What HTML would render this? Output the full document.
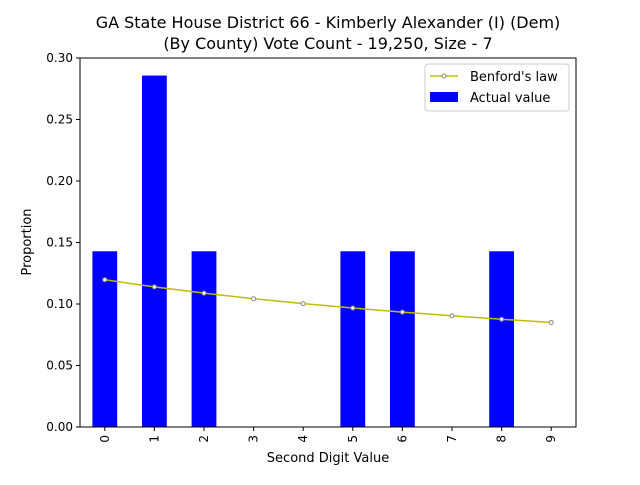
<!DOCTYPE html>
<html><head><meta charset="utf-8"><style>
body{margin:0;background:#fff;font-family:"Liberation Sans","DejaVu Sans",sans-serif;}
svg text{font-family:"DejaVu Sans","Liberation Sans",sans-serif;}
</style></head><body>
<svg id="chart" width="640" height="480" xmlns="http://www.w3.org/2000/svg">
<rect width="640" height="480" fill="#fff"/>
<text x="328" y="28" font-size="16" text-anchor="middle">GA State House District 66 - Kimberly Alexander (I) (Dem)</text>
<text x="328" y="49" font-size="16" text-anchor="middle">(By County) Vote Count - 19,250, Size - 7</text>
<g id="bars"></g>
<g id="line"></g>
<rect x="80" y="58" width="496" height="369" fill="none" stroke="#000" stroke-width="1"/>
<g id="xticks"></g><g id="yticks"></g>
<text x="328" y="462" font-size="13" text-anchor="middle">Second Digit Value</text>
<text x="31" y="242" font-size="13" text-anchor="middle" transform="rotate(-90 31 242)">Proportion</text>
<g>
<rect x="425" y="64" width="144" height="47" rx="3" fill="#fff" stroke="#ccc"/>
<line x1="430" y1="76" x2="458" y2="76" stroke="#bfbf00" stroke-width="1.5"/>
<circle cx="444" cy="76" r="2" fill="#fff" stroke="#888"/>
<text x="470" y="81" font-size="13">Benford's law</text>
<rect x="430" y="92" width="28" height="10" fill="#0000ff"/>
<text x="470" y="102" font-size="13">Actual value</text>
</g>
</svg>
<script>
const categories=["0","1","2","3","4","5","6","7","8","9"];
const actualValues=[0.142857,0.285714,0.142857,0,0,0.142857,0.142857,0,0.142857,0];
const benfordValues=[0.1197,0.1139,0.1088,0.1043,0.1003,0.0967,0.0934,0.0904,0.0876,0.0850];
const yTicks=[0,0.05,0.10,0.15,0.20,0.25,0.30];
const yTickLabels=["0.00","0.05","0.10","0.15","0.20","0.25","0.30"];
const NS="http://www.w3.org/2000/svg";
const L=80,R=576,T=58,B=427;
const xs=i=>L+(i+0.5)*(R-L)/categories.length;
const ys=v=>B-v/0.30*(B-T);
const bw=0.5*(R-L)/categories.length;
function mk(t,a,p){const e=document.createElementNS(NS,t);for(const k in a)e.setAttribute(k,a[k]);p.appendChild(e);return e;}
const gb=document.getElementById('bars');
actualValues.forEach((v,i)=>{const r=mk('rect',{x:xs(i)-bw/2,y:ys(v),width:bw,height:B-ys(v),fill:'#0000ff'},gb);

});
const gl=document.getElementById('line');
const pl=mk('polyline',{points:benfordValues.map((v,i)=>xs(i)+','+ys(v)).join(' '),fill:'none',stroke:'#bfbf00','stroke-width':1.5},gl);


benfordValues.forEach((v,i)=>{const c=mk('circle',{cx:xs(i),cy:ys(v),r:2,fill:'#fff',stroke:'#888'},gl);

});
const gx=document.getElementById('xticks');
categories.forEach((c,i)=>{mk('line',{x1:xs(i),x2:xs(i),y1:B,y2:B+4,stroke:'#000'},gx);
const t=mk('text',{x:xs(i)+4,y:B+8,'font-size':12,'text-anchor':'end',transform:`rotate(-90 ${xs(i)+4} ${B+8})`},gx);t.textContent=c;

});
const gy=document.getElementById('yticks');
yTicks.forEach((v,i)=>{mk('line',{x1:L-4,x2:L,y1:ys(v),y2:ys(v),stroke:'#000'},gy);
const t=mk('text',{x:L-7,y:ys(v)+4,'font-size':12,'text-anchor':'end'},gy);t.textContent=yTickLabels[i];

});
</script>
</body></html>
